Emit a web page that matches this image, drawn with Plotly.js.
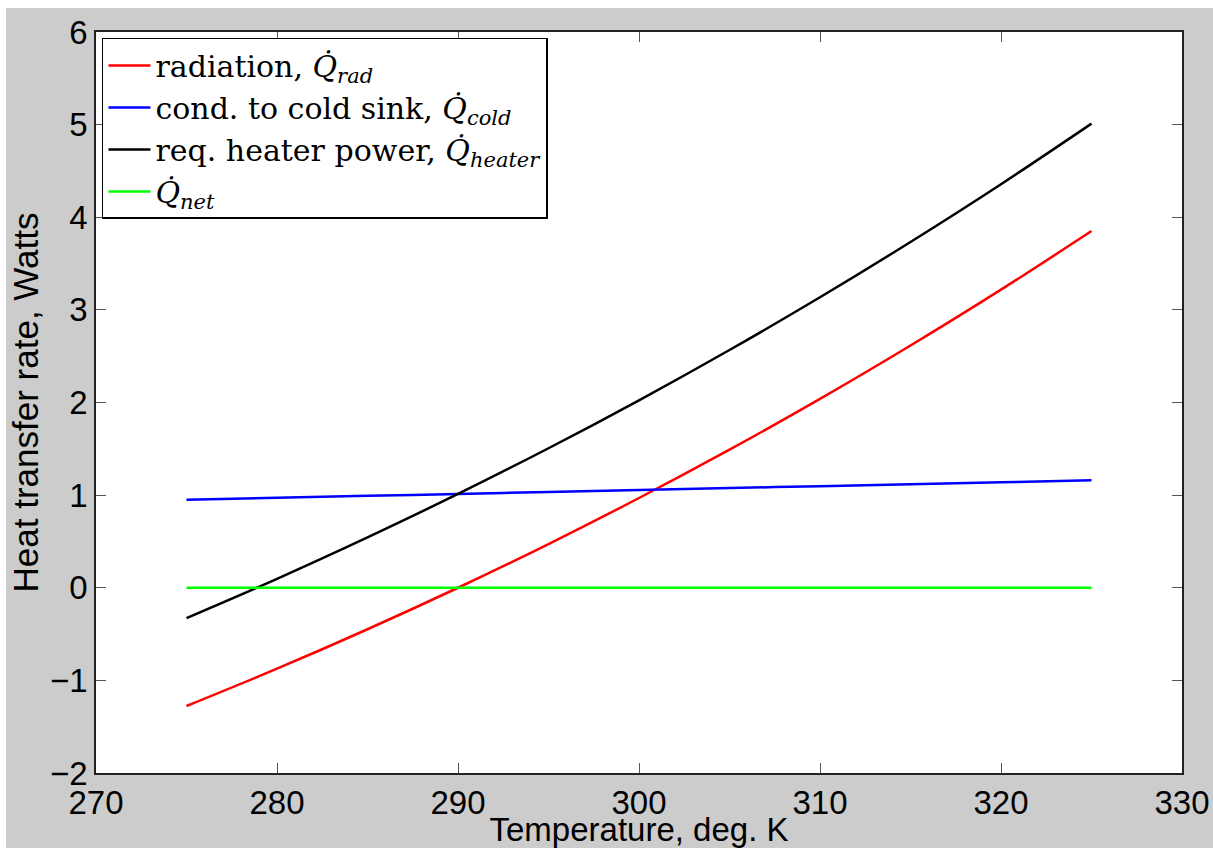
<!DOCTYPE html>
<html>
<head>
<meta charset="utf-8">
<script src="https://cdn.plot.ly/plotly-3.0.1.min.js"></script>
<style>
  html, body { margin: 0; padding: 0; background: #ffffff; }
  #chart { position: absolute; left: 6px; top: 8px; width: 1207px; height: 840px; }
</style>
</head>
<body>
<div id="chart"></div>
<script>
// Temperature, deg. K
const temperature = [275, 280, 285, 290, 295, 300, 305, 310, 315, 320, 325];
// radiation, Q_rad (W)
const qRad = [-1.277, -0.874, -0.448, 0.000, 0.472, 0.969, 1.491, 2.039, 2.615, 3.218, 3.851];
// cond. to cold sink, Q_cold (W)
const qCold = [0.950, 0.971, 0.992, 1.013, 1.034, 1.055, 1.076, 1.097, 1.118, 1.139, 1.160];
// req. heater power, Q_heater (W)
const qHeater = [-0.327, 0.097, 0.544, 1.013, 1.506, 2.024, 2.567, 3.136, 3.733, 4.357, 5.011];
// Q_net (W)
const qNet = [0, 0, 0, 0, 0, 0, 0, 0, 0, 0, 0];

const seriesNames = [
  'radiation, <i>Q̇</i><sub><i>rad</i></sub>',
  'cond. to cold sink, <i>Q̇</i><sub><i>cold</i></sub>',
  'req. heater power, <i>Q̇</i><sub><i>heater</i></sub>',
  '<i>Q̇</i><sub><i>net</i></sub>'
];
const seriesValues = [qRad, qCold, qHeater, qNet];
const seriesColors = ['#ff0000', '#0000ff', '#000000', '#00ff00'];

const traces = seriesValues.map((vals, i) => ({
  type: 'scatter',
  mode: 'lines',
  x: temperature,
  y: vals,
  name: seriesNames[i],
  line: { color: seriesColors[i], width: 2.5, shape: 'spline' }
}));

const axisFont = { family: 'Liberation Sans, Arial, Helvetica, sans-serif', size: 33, color: '#000000' };

const layout = {
  width: 1207,
  height: 840,
  paper_bgcolor: '#cccccc',
  plot_bgcolor: '#ffffff',
  margin: { l: 90, r: 31, t: 24, b: 75, pad: 0 },
  showlegend: true,
  legend: {
    x: 0.0055, y: 0.992, xanchor: 'left', yanchor: 'top',
    bgcolor: '#ffffff', bordercolor: '#000000', borderwidth: 1.5,
    font: { family: 'DejaVu Serif, Liberation Serif, serif', size: 30, color: '#000000' },
    itemwidth: 42,
    tracegroupgap: 0
  },
  xaxis: {
    range: [270, 330],
    tickvals: [270, 280, 290, 300, 310, 320, 330],
    ticks: 'inside', ticklen: 10, tickwidth: 1, tickcolor: '#555555',
    showline: true, linecolor: '#222222', linewidth: 1.5, mirror: 'ticks',
    showgrid: false, zeroline: false,
    tickfont: axisFont,
    title: { text: 'Temperature, deg. K', font: axisFont, standoff: 3 }
  },
  yaxis: {
    range: [-2, 6],
    tickvals: [-2, -1, 0, 1, 2, 3, 4, 5, 6],
    ticks: 'inside', ticklen: 10, tickwidth: 1, tickcolor: '#555555',
    showline: true, linecolor: '#222222', linewidth: 1.5, mirror: 'ticks',
    showgrid: false, zeroline: false,
    tickfont: axisFont,
    title: { text: 'Heat transfer rate, Watts', font: { family: axisFont.family, size: 35, color: '#000000' }, standoff: 4 }
  }
};

Plotly.newPlot('chart', traces, layout, { displayModeBar: false, responsive: false });
</script>
</body>
</html>
